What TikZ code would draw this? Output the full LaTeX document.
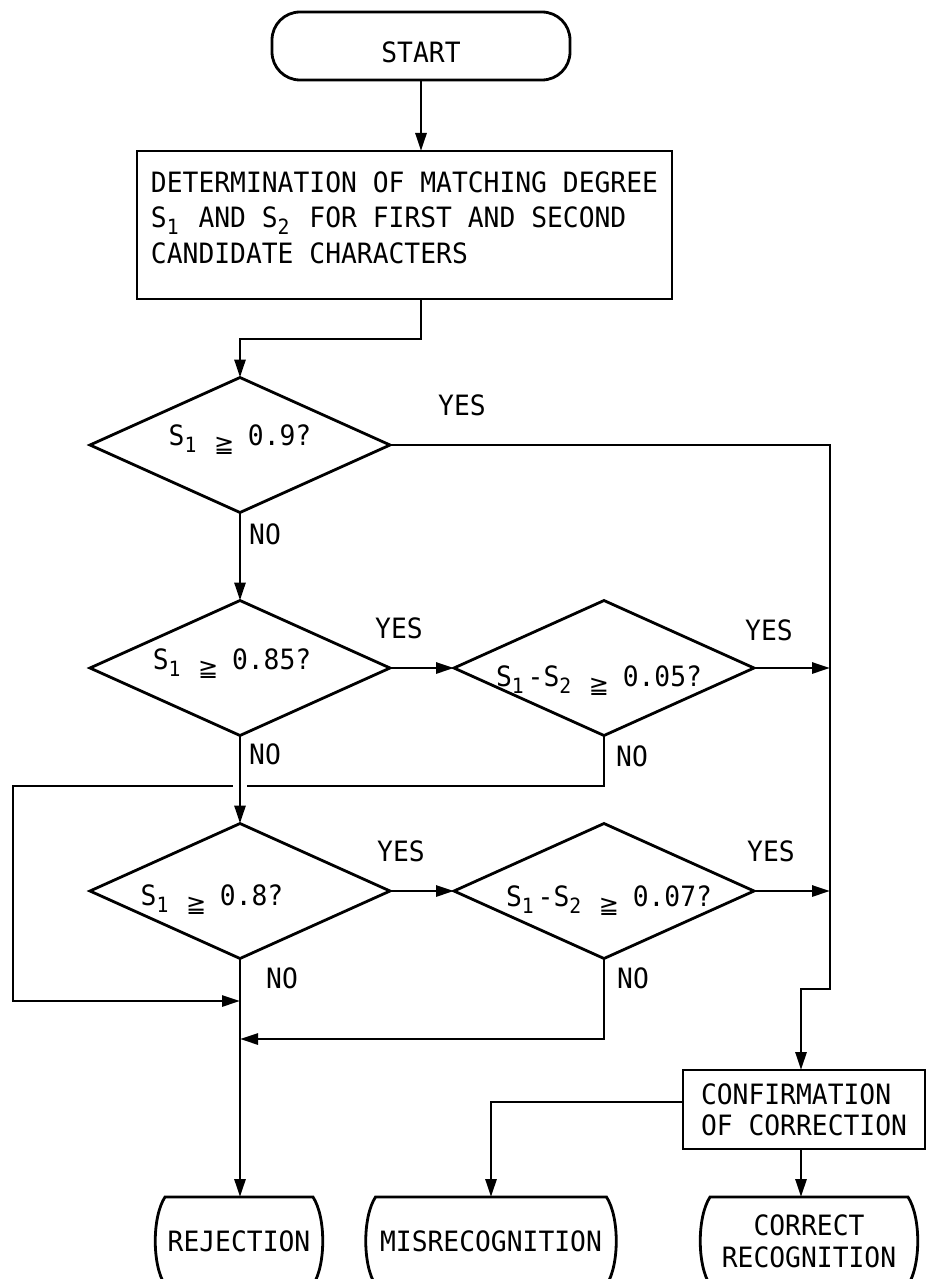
\documentclass[tikz,border=0pt]{standalone}
\usepackage{fontspec}
\setmonofont{DejaVu Sans Mono}[FakeStretch=0.94]
\newfontfamily\symfont{DejaVu Sans}
\usetikzlibrary{shapes.geometric,arrows.meta}
\newcommand\lsub[1]{\makebox[15.85pt][l]{\raisebox{-7pt}{\fontsize{21}{21}\selectfont #1}}}
\newcommand\gqq{\makebox[15.85pt][c]{\raisebox{-7pt}{\symfont\fontsize{24}{24}\selectfont ≧}}}
\newcommand\bulgebox[1]{\draw[ln] (#1.north west) -- (#1.north east) .. controls +(13,20) and +(13,-20) .. (#1.south east) -- (#1.south west) .. controls +(-13,-20) and +(-13,20) .. (#1.north west) -- cycle;}
\begin{document}
\begin{tikzpicture}[x=1pt,y=-1pt,
  every node/.style={font=\ttfamily\fontsize{28}{35.5}\selectfont, inner sep=0pt, outer sep=0pt},
  ln/.style={line width=2.8pt, line join=miter},
  arr/.style={ln, -{Triangle[length=18pt,width=11pt]}},
  dia/.style={draw, ln, shape=diamond, minimum width=300pt, minimum height=135pt},
  boxnode/.style={draw, ln, align=left},
  termnode/.style={minimum height=88pt, anchor=north, align=center}
]
\useasboundingbox (0,0) rectangle (927,1279);
\fill[white] (0,0) rectangle (927,1279);
\clip (0,0) rectangle (927,1279);

% nodes
\node[draw, ln, rounded corners=28pt, minimum width=298pt, minimum height=68pt, text height=37pt, text depth=3pt] (start) at (421,46) {START};
\node[boxnode, minimum width=535pt, minimum height=148pt] (det) at (404.5,225) {DETERMINATION OF MATCHING DEGREE\\S\lsub1 AND S\lsub2 FOR FIRST AND SECOND\\CANDIDATE CHARACTERS\rule[-15pt]{0pt}{0pt}};

\node[dia] (d1) at (240,445) {};
\node[dia] (d2) at (240,668) {};
\node[dia] (d3) at (604,668) {};
\node[dia] (d4) at (240,891) {};
\node[dia] (d5) at (604,891) {};

\node[anchor=base] (t1) at (240,445) {S\lsub1 \gqq{} 0.9?};
\node[anchor=base] (t2) at (232,669) {S\lsub1 \gqq{} 0.85?};
\node[anchor=base] (t3) at (599,686) {S\lsub1-S\lsub2 \gqq{} 0.05?};
\node[anchor=base] (t4) at (212,905) {S\lsub1 \gqq{} 0.8?};
\node[anchor=base] (t5) at (609,906) {S\lsub1-S\lsub2 \gqq{} 0.07?};

\node[boxnode, minimum width=242pt, minimum height=79pt, font=\ttfamily\fontsize{28}{31}\selectfont] (conf) at (804,1109.5) {CONFIRMATION\\OF CORRECTION};

\node[termnode, minimum width=148pt] (rej) at (239,1197) {REJECTION};
\node[termnode, minimum width=231pt] (mis) at (491,1197) {MISRECOGNITION};
\node[termnode, minimum width=198pt, font=\ttfamily\fontsize{28}{32}\selectfont] (cor) at (809,1197) {CORRECT\\RECOGNITION};
\bulgebox{rej}
\bulgebox{mis}
\bulgebox{cor}

% labels
\node (y1) at (462,405) {YES};
\node (y2) at (399,628) {YES};
\node (y3) at (769,630) {YES};
\node (y4) at (401,851) {YES};
\node (y5) at (771,851) {YES};
\node (n1) at (265,534) {NO};
\node (n2) at (265,754) {NO};
\node (n3) at (632,756) {NO};
\node (n4) at (282,978) {NO};
\node (n5) at (633,978) {NO};

% connectors
\coordinate (rx) at (830,989);
\coordinate (jog) at (801,989);
\coordinate (lt) at (13,786);
\coordinate (lb) at (13,1001);
\coordinate (j5) at (240,1039);

\draw[arr] (start.south) -- (start.south |- det.north);
\draw[arr] (start.south |- det.south) -- ++(0,40) -| (d1.north);
\draw[arr] (d1.east) -| (rx) -- (jog) -- (jog |- conf.north);
\draw[arr] (d3.east) -- (d3.east -| rx);
\draw[arr] (d5.east) -- (d5.east -| rx);
\draw[arr] (d1.south) -- (d2.north);
\draw[arr] (d2.east) -- (d3.west);
\draw[arr] (d4.east) -- (d5.west);
\draw[arr] (d3.south) |- (lt) -- (lb) -- (lb -| d4.south);
\fill[white] (233,779) rectangle (247,793);
\draw[arr] (d2.south) -- (d4.north);
\draw[arr] (d4.south) -- (d4.south |- rej.north);
\draw[arr] (d5.south) |- (j5);
\draw[arr] ([yshift=7.5pt]conf.west) -| (mis.north);
\draw[arr] (conf.south -| jog) -- (jog |- cor.north);
\end{tikzpicture}
\end{document}
